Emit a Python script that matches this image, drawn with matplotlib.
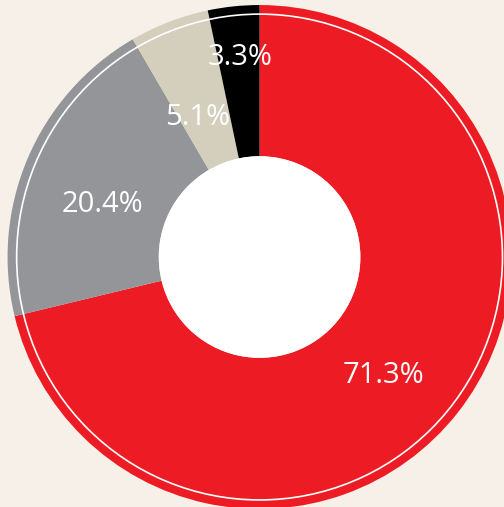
import numpy as np
import matplotlib.pyplot as plt
from matplotlib.patches import Circle

# slice data, clockwise from 12 o'clock
labels = ["71.3%", "20.4%", "5.1%", "3.3%"]
shares = [71.3, 20.4, 5.1, 3.3]
colors = ["#ed1c24", "#939598", "#d3cfbc", "#000000"]
# label placement: radius (fraction of outer) and angle nudge from slice middle
label_radius = [0.668, 0.660, 0.619, 0.810]
label_nudge = [-4.4, 3.4, 2.2, -0.5]

fig = plt.figure(figsize=(5.04, 5.07), dpi=100)
fig.patch.set_facecolor("#f6f0e9")
ax = fig.add_axes([0, 0, 1, 1])
ax.set_facecolor("#f6f0e9")

wedges, _ = ax.pie(shares, colors=colors, startangle=90, counterclock=False,
                   radius=1.0, wedgeprops=dict(width=0.6, linewidth=0))

# white hole and thin white ring near the rim
ax.add_patch(Circle((0, 0), 0.4, facecolor="white", edgecolor="none", zorder=3))
ax.add_patch(Circle((0, 0), 0.964, fill=False, edgecolor="white", linewidth=1.2, zorder=3))

for w, lab, r, nudge in zip(wedges, labels, label_radius, label_nudge):
    ang = np.deg2rad((w.theta1 + w.theta2) / 2 + nudge)
    ax.text(r * np.cos(ang), r * np.sin(ang) - 0.016, lab, color="white",
            fontsize=21, family="Open Sans", ha="center", va="center", zorder=4)

ax.set_xlim(-1.030, 0.970)
ax.set_ylim(-0.992, 1.020)
ax.set_aspect("equal")
ax.axis("off")

fig.savefig("out.png", dpi=100, facecolor=fig.get_facecolor())
